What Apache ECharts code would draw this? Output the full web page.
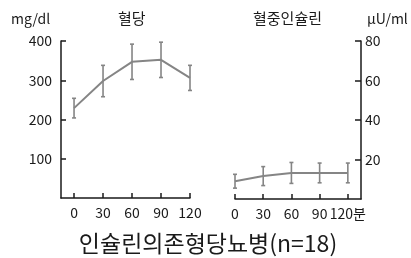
<!DOCTYPE html>
<html>
<head>
<meta charset="utf-8">
<script src="https://cdn.jsdelivr.net/npm/echarts@6/dist/echarts.min.js"></script>
<style>
  html, body { margin: 0; padding: 0; background: #fff; }
  #c1 { width: 411px; height: 258px; }
</style>
</head>
<body>
<div id="c1"></div>
<script>
var minutes = [0, 30, 60, 90, 120];
var glucose = [229, 298, 347, 352, 306];     // mg/dl
var glucoseSd = [25, 40, 45, 45, 32];
var insulin = [9, 11.6, 13.2, 13.2, 13.2];   // μU/ml
var insulinSd = [3.5, 4.8, 5.3, 5, 5];
var xTicks = [0, 30, 60, 90, 120];
var glucoseTicks = [100, 200, 300, 400];
var insulinTicks = [20, 40, 60, 80];

var font = "'Noto Sans CJK KR', 'Liberation Sans', sans-serif";
var ink = "#1a1a1a";
var lineGrey = "#858585";

var chartDom = document.getElementById("c1");
var myChart = echarts.init(chartDom);

function pairs(xs, ys) {
  var res = [];
  for (var i = 0; i < xs.length; i++) res.push([xs[i], ys[i]]);
  return res;
}
function bars(xs, ys, sd) {
  var res = [];
  for (var i = 0; i < xs.length; i++) res.push([xs[i], ys[i] - sd[i], ys[i] + sd[i]]);
  return res;
}
function errorBar(params, api) {
  var lo = api.coord([api.value(0), api.value(1)]);
  var hi = api.coord([api.value(0), api.value(2)]);
  var st = { stroke: lineGrey, lineWidth: 1.6 };
  return {
    type: "group",
    children: [
      { type: "line", shape: { x1: lo[0], y1: lo[1], x2: hi[0], y2: hi[1] }, style: st },
      { type: "line", shape: { x1: lo[0] - 2, y1: lo[1], x2: lo[0] + 2, y2: lo[1] }, style: st },
      { type: "line", shape: { x1: hi[0] - 2, y1: hi[1], x2: hi[0] + 2, y2: hi[1] }, style: st }
    ]
  };
}

function axisLine() {
  return { show: true, onZero: false, lineStyle: { color: ink, width: 1.5 } };
}
function tick(values, len) {
  return { show: true, inside: true, length: len, customValues: values, lineStyle: { color: ink, width: 1.5 } };
}
function label(values, margin, fmt) {
  var l = { show: true, color: ink, fontFamily: font, fontSize: 14, margin: margin, customValues: values };
  if (fmt) l.formatter = fmt;
  return l;
}

var option = {
  animation: false,
  backgroundColor: "#fff",
  title: [
    { text: "mg/dl", left: 6, top: 7, textStyle: { color: ink, fontFamily: font, fontSize: 14, fontWeight: "normal" } },
    { text: "혈당", left: 113, top: 6, textStyle: { color: ink, fontFamily: font, fontSize: 15, fontWeight: "normal" } },
    { text: "혈중인슐린", left: 248, top: 6, textStyle: { color: ink, fontFamily: font, fontSize: 15, fontWeight: "normal" } },
    { text: "μU/ml", left: 362, top: 7, textStyle: { color: ink, fontFamily: font, fontSize: 14, fontWeight: "normal" } },
    { text: "인슐린의존형당뇨병(n=18)", left: 203, textAlign: "center", top: 227, textStyle: { color: ink, fontFamily: font, fontSize: 23, fontWeight: "normal" } }
  ],
  grid: [
    { left: 61, top: 41, width: 129, height: 157 },
    { left: 235, top: 41, width: 126, height: 158 }
  ],
  xAxis: [
    {
      gridIndex: 0, type: "value", min: -13.5, max: 120,
      splitLine: { show: false }, axisLine: axisLine(),
      axisTick: tick(xTicks, 5),
      axisLabel: label(xTicks, 8)
    },
    {
      gridIndex: 1, type: "value", min: 0, max: 134,
      splitLine: { show: false }, axisLine: axisLine(),
      axisTick: tick(xTicks, 5),
      axisLabel: label(xTicks, 8, function (v) { return v === 120 ? "120분" : String(v); })
    }
  ],
  yAxis: [
    {
      gridIndex: 0, type: "value", min: 0, max: 400,
      splitLine: { show: false }, axisLine: axisLine(),
      axisTick: tick(glucoseTicks, 5),
      axisLabel: label(glucoseTicks, 9)
    },
    {
      gridIndex: 1, type: "value", position: "right", min: 0, max: 80,
      splitLine: { show: false }, axisLine: axisLine(),
      axisTick: tick(insulinTicks, 6),
      axisLabel: label(insulinTicks, 4)
    }
  ],
  series: [
    {
      type: "line", xAxisIndex: 0, yAxisIndex: 0, showSymbol: false,
      lineStyle: { color: lineGrey, width: 2 }, data: pairs(minutes, glucose)
    },
    {
      type: "custom", xAxisIndex: 0, yAxisIndex: 0, renderItem: errorBar,
      encode: { x: 0, y: [1, 2] }, data: bars(minutes, glucose, glucoseSd)
    },
    {
      type: "line", xAxisIndex: 1, yAxisIndex: 1, showSymbol: false,
      lineStyle: { color: lineGrey, width: 2 }, data: pairs(minutes, insulin)
    },
    {
      type: "custom", xAxisIndex: 1, yAxisIndex: 1, renderItem: errorBar,
      encode: { x: 0, y: [1, 2] }, data: bars(minutes, insulin, insulinSd)
    }
  ]
};
myChart.setOption(option);
</script>
</body>
</html>
